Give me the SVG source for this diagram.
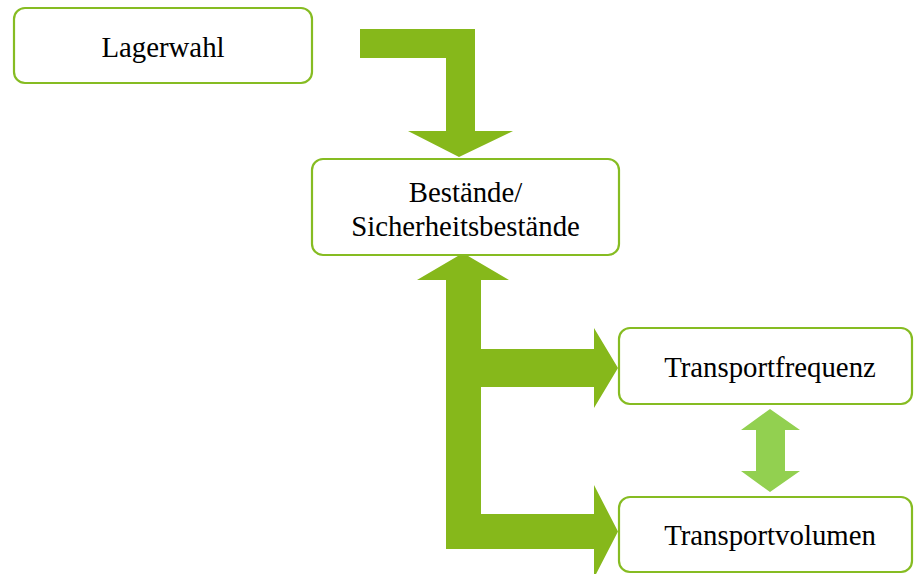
<svg xmlns="http://www.w3.org/2000/svg" width="914" height="574" viewBox="0 0 914 574">
<style>
.box{fill:#fff;stroke:#86BC22;stroke-width:2.2}
.t{font-family:"Liberation Serif","Times New Roman",serif;font-size:28.8px;fill:#000;text-anchor:middle}
.arr{fill:#86B81B}
.arr2{fill:#92D050}
</style>
<rect width="914" height="574" fill="#fff"/>
<g id="connectors">
<path class="arr" d="M360,29 H475 V131 H513 L459,157 L408,131 H446 V58 H360 Z"/>
<path class="arr" d="M463,253 L509,280 H481 V349 H594 V328 L618,368 L594,408 V387 H481 V514 H594 V485 L618,531.5 L594,578 V549 H446 V280 H417 Z"/>
<path class="arr2" d="M770,409 L800,430 H785 V471 H800 L770,492 L741,471 H756 V430 H741 Z"/>
</g>
<g id="lagerwahl">
<rect class="box" x="14" y="8" width="298" height="75" rx="11"/>
<text class="t" x="163" y="57">Lagerwahl</text>
</g>
<g id="bestaende">
<rect class="box" x="312" y="159" width="307" height="96" rx="11"/>
<text class="t" x="465.5" y="202">Bestände/</text>
<text class="t" x="465.5" y="236">Sicherheitsbestände</text>
</g>
<g id="transportfrequenz">
<rect class="box" x="619" y="328" width="293" height="76" rx="11"/>
<text class="t" x="770" y="377">Transportfrequenz</text>
</g>
<g id="transportvolumen">
<rect class="box" x="619" y="497" width="293" height="75" rx="11"/>
<text class="t" x="770" y="545">Transportvolumen</text>
</g>
</svg>
